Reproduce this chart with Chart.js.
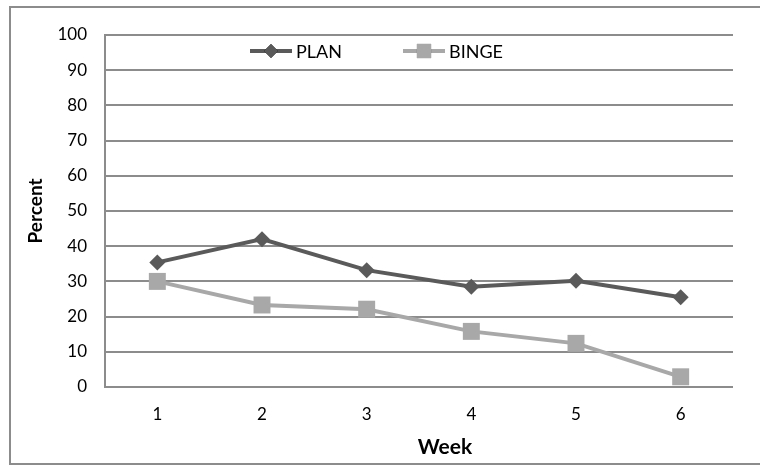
<!DOCTYPE html>
<html>
<head>
<meta charset="utf-8">
<script src="https://cdn.jsdelivr.net/npm/chart.js@4/dist/chart.umd.min.js"></script>
<style>
  html, body { margin: 0; padding: 0; background: #fff; }
  #wrap { width: 760px; height: 466px; }
</style>
</head>
<body>
<div id="wrap"><canvas id="myChart" width="760" height="466"></canvas></div>
<script>
const weeks = ['1', '2', '3', '4', '5', '6'];
const plan = [35.4, 42.0, 33.2, 28.5, 30.2, 25.5];
const binge = [30.0, 23.3, 22.1, 15.8, 12.4, 2.9];
const yTicks = [0, 10, 20, 30, 40, 50, 60, 70, 80, 90, 100];

const planColor = '#5a5a5a';
const bingeColor = '#a8a8a8';
const gridColor = '#8c8c8c';
const fontFamily = 'Lato, "Open Sans", sans-serif';

// outer frame, x title and legend drawn like the original (line with marker)
const framePlugin = {
	id: 'frame',
	beforeDraw(chart) {
		const c = chart.ctx;
		c.save();
		c.fillStyle = '#fff';
		c.fillRect(0, 0, chart.width, chart.height);
		c.strokeStyle = '#8c8c8c';
		c.lineWidth = 2;
		c.strokeRect(10, 7, 800, 457);
		c.restore();
	},
	afterDraw(chart) {
		const c = chart.ctx;
		const y = 51;
		const items = [
			{ x: 250, label: 'PLAN', ds: 0 },
			{ x: 403, label: 'BINGE', ds: 1 }
		];
		c.save();
		items.forEach(it => {
			const ds = chart.data.datasets[it.ds];
			c.strokeStyle = ds.borderColor;
			c.lineWidth = 4;
			c.beginPath();
			c.moveTo(it.x, y);
			c.lineTo(it.x + 42, y);
			c.stroke();
			Chart.helpers.drawPoint(c, {
				pointStyle: ds.pointStyle,
				radius: ds.pointStyle === 'rect' ? 10 : 7,
				rotation: 0,
				borderWidth: 0
			}, it.x + 21, y);
			c.fillStyle = ds.borderColor;
			c.fill();
			c.fillStyle = '#000';
			c.font = '18px ' + fontFamily;
			c.textBaseline = 'middle';
			c.textAlign = 'left';
			c.fillText(it.label, it.x + 46, y + 1);
		});
		// x axis title sits a bit right of centre in the original
		c.fillStyle = '#000';
		c.font = 'bold 21px ' + fontFamily;
		c.textAlign = 'center';
		c.textBaseline = 'middle';
		c.fillText('Week', 445, 447);
		c.restore();
	}
};

const ctx = document.getElementById('myChart');

const myChart = new Chart(ctx, {
	type: 'line',
	data: {
		labels: weeks,
		datasets: [{
			label: 'PLAN',
			data: plan,
			borderColor: planColor,
			backgroundColor: planColor,
			borderWidth: 4,
			pointStyle: 'rectRot',
			pointRadius: 8,
			pointBorderWidth: 0,
			tension: 0
		}, {
			label: 'BINGE',
			data: binge,
			borderColor: bingeColor,
			backgroundColor: bingeColor,
			borderWidth: 4,
			pointStyle: 'rect',
			pointRadius: 12,
			pointBorderWidth: 0,
			tension: 0
		}]
	},
	options: {
		responsive: false,
		animation: false,
		layout: {
			padding: { left: 0, right: 27, top: 35, bottom: 0 }
		},
		plugins: {
			legend: { display: false },
			tooltip: { enabled: false }
		},
		scales: {
			x: {
				offset: true,
				grid: { display: false },
				border: { display: false },
				ticks: {
					color: '#000',
					padding: 9,
					font: { family: fontFamily, size: 17 }
				},
				afterFit(scale) { scale.height = 79; }
			},
			y: {
				min: 0,
				max: 100,
				afterBuildTicks(scale) {
					scale.ticks = yTicks.map(v => ({ value: v }));
				},
				grid: {
					color: gridColor,
					lineWidth: 2,
					drawTicks: false
				},
				border: { display: true, color: gridColor, width: 2 },
				ticks: {
					color: '#000',
					padding: 18,
					font: { family: fontFamily, size: 17 }
				},
				title: {
					display: true,
					text: 'Percent',
					color: '#000',
					padding: { top: 24 },
					font: { family: fontFamily, size: 19, weight: 'bold' }
				},
				afterFit(scale) { scale.width = 105; }
			}
		}
	},
	plugins: [framePlugin]
});
</script>
</body>
</html>
